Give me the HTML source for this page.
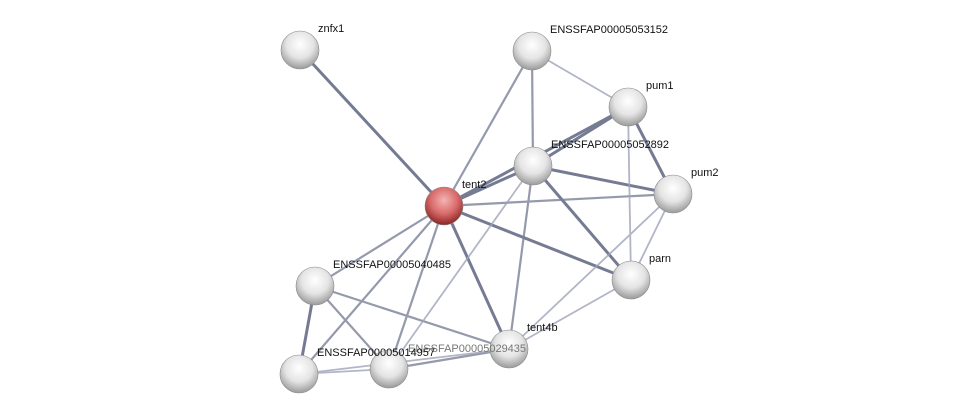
<!DOCTYPE html>
<html><head><meta charset="utf-8"><style>
html,body{margin:0;padding:0;background:#fff;}
svg{display:block;}
text{font-family:"Liberation Sans",sans-serif;font-size:11px;fill:#111;}
</style></head><body>
<svg width="976" height="419" viewBox="0 0 976 419">
<defs>
<radialGradient id="g" cx="50%" cy="35%" r="65%">
<stop offset="0" stop-color="#ffffff"/><stop offset="0.55" stop-color="#e4e4e4"/><stop offset="1" stop-color="#9a9a9a"/></radialGradient>
<radialGradient id="r" cx="50%" cy="35%" r="65%">
<stop offset="0" stop-color="#f4b4b4"/><stop offset="0.55" stop-color="#d86a6a"/><stop offset="1" stop-color="#8a2424"/></radialGradient>
</defs>
<g stroke-linecap="round">
<g stroke="#5e6580" stroke-width="3" opacity="0.85">
<line x1="444" y1="206" x2="300" y2="50"/>
<line x1="444" y1="206" x2="533" y2="166"/>
<line x1="444" y1="206" x2="628" y2="107"/>
<line x1="444" y1="206" x2="631" y2="280"/>
<line x1="533" y1="166" x2="628" y2="107"/>
<line x1="533" y1="166" x2="631" y2="280"/>
<line x1="533" y1="166" x2="673" y2="194"/>
<line x1="628" y1="107" x2="673" y2="194"/>
<line x1="315" y1="286" x2="299" y2="374"/>
<line x1="444" y1="206" x2="509" y2="349"/>
</g>
<g stroke="#7a8098" stroke-width="2.2" opacity="0.8">
<line x1="444" y1="206" x2="532" y2="51"/>
<line x1="532" y1="51" x2="533" y2="166"/>
<line x1="444" y1="206" x2="673" y2="194"/>
<line x1="444" y1="206" x2="315" y2="286"/>
<line x1="444" y1="206" x2="299" y2="374"/>
<line x1="444" y1="206" x2="389" y2="369"/>
<line x1="315" y1="286" x2="389" y2="369"/>
<line x1="315" y1="286" x2="509" y2="349"/>
<line x1="533" y1="166" x2="509" y2="349"/>
<line x1="389" y1="369" x2="509" y2="349"/>
</g>
<g stroke="#9ea3b8" stroke-width="1.8" opacity="0.8">
<line x1="532" y1="51" x2="628" y2="107"/>
<line x1="533" y1="166" x2="389" y2="369"/>
<line x1="628" y1="107" x2="631" y2="280"/>
<line x1="673" y1="194" x2="631" y2="280"/>
<line x1="673" y1="194" x2="509" y2="349"/>
<line x1="631" y1="280" x2="509" y2="349"/>
<line x1="299" y1="374" x2="509" y2="349"/>
<line x1="299" y1="374" x2="389" y2="369"/>
</g>
</g>
<g stroke="#888" stroke-width="0.6">
<circle cx="300" cy="50" r="19" fill="url(#g)"/>
<circle cx="532" cy="51" r="19" fill="url(#g)"/>
<circle cx="628" cy="107" r="19" fill="url(#g)"/>
<circle cx="533" cy="166" r="19" fill="url(#g)"/>
<circle cx="673" cy="194" r="19" fill="url(#g)"/>
<circle cx="444" cy="206" r="19" fill="url(#r)"/>
<circle cx="631" cy="280" r="19" fill="url(#g)"/>
<circle cx="315" cy="286" r="19" fill="url(#g)"/>
<circle cx="509" cy="349" r="19" fill="url(#g)"/>
<circle cx="389" cy="369" r="19" fill="url(#g)"/>
<circle cx="299" cy="374" r="19" fill="url(#g)"/>
</g>
<text x="318" y="32">znfx1</text>
<text x="550" y="33">ENSSFAP00005053152</text>
<text x="646" y="89">pum1</text>
<text x="551" y="148">ENSSFAP00005052892</text>
<text x="691" y="176">pum2</text>
<text x="462" y="188">tent2</text>
<text x="649" y="262">parn</text>
<text x="333" y="268">ENSSFAP00005040485</text>
<text x="527" y="331">tent4b</text>
<text x="408" y="352" style="fill:#777">ENSSFAP00005029435</text>
<text x="317" y="356">ENSSFAP00005014957</text>
</svg>
</body></html>
